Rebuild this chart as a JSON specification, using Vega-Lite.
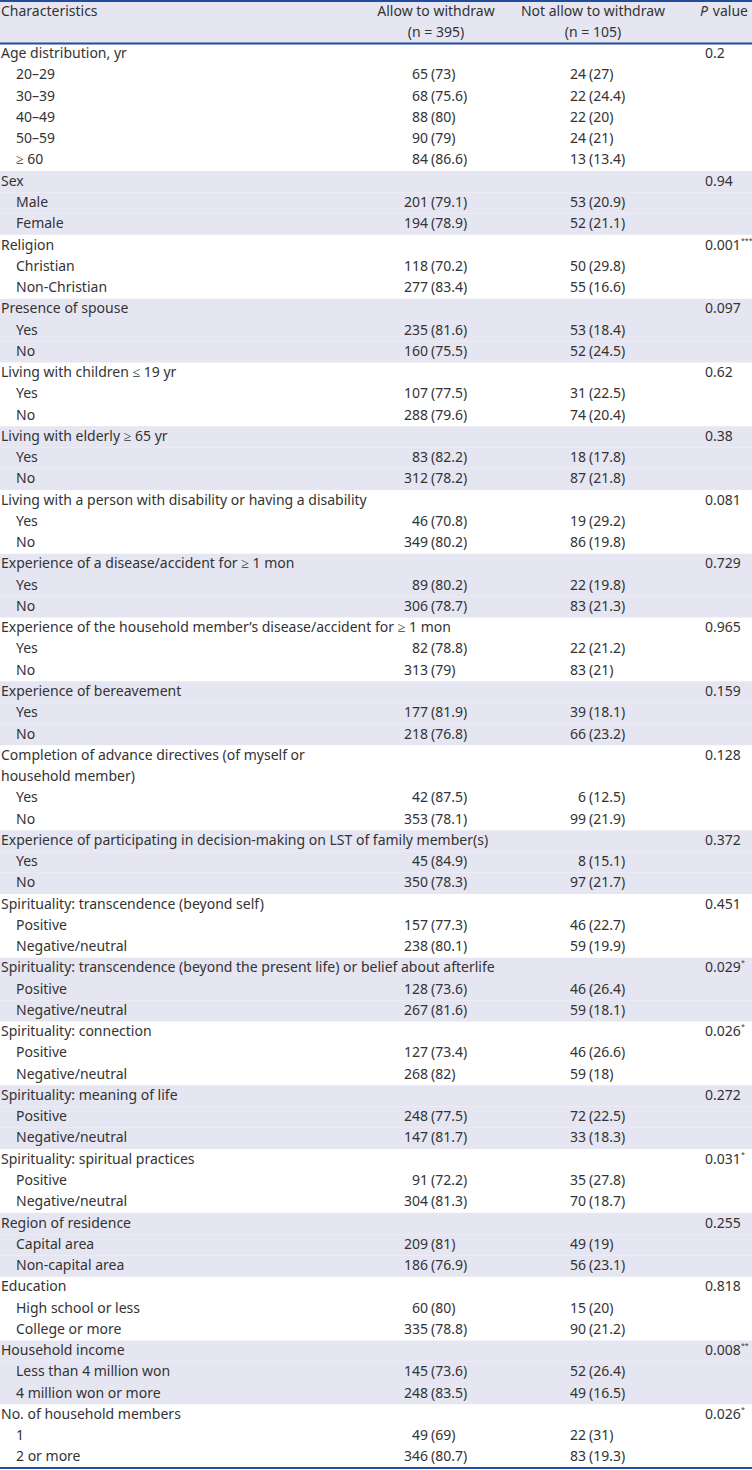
{
  "$schema": "https://vega.github.io/schema/vega-lite/v6.json",
  "width": 752,
  "height": 1467,
  "padding": {"top": 1, "left": 0, "right": 0, "bottom": 2},
  "autosize": {"type": "none"},
  "background": "white",
  "config": {
    "view": {"stroke": null},
    "text": {"font": "Noto Sans", "fontSize": 14, "color": "#333333", "baseline": "middle"}
  },
  "datasets": {
    "rows": [
      {"r": 2, "lvl": 0, "label": "Age distribution, yr", "p": "0.2", "shade": false},
      {"r": 3, "lvl": 1, "label": "20–29", "a": 65, "ap": 73, "b": 24, "bp": 27, "shade": false},
      {"r": 4, "lvl": 1, "label": "30–39", "a": 68, "ap": 75.6, "b": 22, "bp": 24.4, "shade": false},
      {"r": 5, "lvl": 1, "label": "40–49", "a": 88, "ap": 80, "b": 22, "bp": 20, "shade": false},
      {"r": 6, "lvl": 1, "label": "50–59", "a": 90, "ap": 79, "b": 24, "bp": 21, "shade": false},
      {"r": 7, "lvl": 1, "label": "≥ 60", "a": 84, "ap": 86.6, "b": 13, "bp": 13.4, "shade": false},
      {"r": 8, "lvl": 0, "label": "Sex", "p": "0.94", "shade": true},
      {"r": 9, "lvl": 1, "label": "Male", "a": 201, "ap": 79.1, "b": 53, "bp": 20.9, "shade": true},
      {"r": 10, "lvl": 1, "label": "Female", "a": 194, "ap": 78.9, "b": 52, "bp": 21.1, "shade": true},
      {"r": 11, "lvl": 0, "label": "Religion", "p": "0.001", "sig": "***", "shade": false},
      {"r": 12, "lvl": 1, "label": "Christian", "a": 118, "ap": 70.2, "b": 50, "bp": 29.8, "shade": false},
      {"r": 13, "lvl": 1, "label": "Non-Christian", "a": 277, "ap": 83.4, "b": 55, "bp": 16.6, "shade": false},
      {"r": 14, "lvl": 0, "label": "Presence of spouse", "p": "0.097", "shade": true},
      {"r": 15, "lvl": 1, "label": "Yes", "a": 235, "ap": 81.6, "b": 53, "bp": 18.4, "shade": true},
      {"r": 16, "lvl": 1, "label": "No", "a": 160, "ap": 75.5, "b": 52, "bp": 24.5, "shade": true},
      {"r": 17, "lvl": 0, "label": "Living with children ≤ 19 yr", "p": "0.62", "shade": false},
      {"r": 18, "lvl": 1, "label": "Yes", "a": 107, "ap": 77.5, "b": 31, "bp": 22.5, "shade": false},
      {"r": 19, "lvl": 1, "label": "No", "a": 288, "ap": 79.6, "b": 74, "bp": 20.4, "shade": false},
      {"r": 20, "lvl": 0, "label": "Living with elderly ≥ 65 yr", "p": "0.38", "shade": true},
      {"r": 21, "lvl": 1, "label": "Yes", "a": 83, "ap": 82.2, "b": 18, "bp": 17.8, "shade": true},
      {"r": 22, "lvl": 1, "label": "No", "a": 312, "ap": 78.2, "b": 87, "bp": 21.8, "shade": true},
      {"r": 23, "lvl": 0, "label": "Living with a person with disability or having a disability", "p": "0.081", "shade": false},
      {"r": 24, "lvl": 1, "label": "Yes", "a": 46, "ap": 70.8, "b": 19, "bp": 29.2, "shade": false},
      {"r": 25, "lvl": 1, "label": "No", "a": 349, "ap": 80.2, "b": 86, "bp": 19.8, "shade": false},
      {"r": 26, "lvl": 0, "label": "Experience of a disease/accident for ≥ 1 mon", "p": "0.729", "shade": true},
      {"r": 27, "lvl": 1, "label": "Yes", "a": 89, "ap": 80.2, "b": 22, "bp": 19.8, "shade": true},
      {"r": 28, "lvl": 1, "label": "No", "a": 306, "ap": 78.7, "b": 83, "bp": 21.3, "shade": true},
      {"r": 29, "lvl": 0, "label": "Experience of the household member’s disease/accident for ≥ 1 mon", "p": "0.965", "shade": false},
      {"r": 30, "lvl": 1, "label": "Yes", "a": 82, "ap": 78.8, "b": 22, "bp": 21.2, "shade": false},
      {"r": 31, "lvl": 1, "label": "No", "a": 313, "ap": 79, "b": 83, "bp": 21, "shade": false},
      {"r": 32, "lvl": 0, "label": "Experience of bereavement", "p": "0.159", "shade": true},
      {"r": 33, "lvl": 1, "label": "Yes", "a": 177, "ap": 81.9, "b": 39, "bp": 18.1, "shade": true},
      {"r": 34, "lvl": 1, "label": "No", "a": 218, "ap": 76.8, "b": 66, "bp": 23.2, "shade": true},
      {"r": 35, "lvl": 0, "label": "Completion of advance directives (of myself or", "p": "0.128", "shade": false},
      {"r": 36, "lvl": 0, "label": "household member)", "shade": false},
      {"r": 37, "lvl": 1, "label": "Yes", "a": 42, "ap": 87.5, "b": 6, "bp": 12.5, "shade": false},
      {"r": 38, "lvl": 1, "label": "No", "a": 353, "ap": 78.1, "b": 99, "bp": 21.9, "shade": false},
      {"r": 39, "lvl": 0, "label": "Experience of participating in decision-making on LST of family member(s)", "p": "0.372", "shade": true},
      {"r": 40, "lvl": 1, "label": "Yes", "a": 45, "ap": 84.9, "b": 8, "bp": 15.1, "shade": true},
      {"r": 41, "lvl": 1, "label": "No", "a": 350, "ap": 78.3, "b": 97, "bp": 21.7, "shade": true},
      {"r": 42, "lvl": 0, "label": "Spirituality: transcendence (beyond self)", "p": "0.451", "shade": false},
      {"r": 43, "lvl": 1, "label": "Positive", "a": 157, "ap": 77.3, "b": 46, "bp": 22.7, "shade": false},
      {"r": 44, "lvl": 1, "label": "Negative/neutral", "a": 238, "ap": 80.1, "b": 59, "bp": 19.9, "shade": false},
      {"r": 45, "lvl": 0, "label": "Spirituality: transcendence (beyond the present life) or belief about afterlife", "p": "0.029", "sig": "*", "shade": true},
      {"r": 46, "lvl": 1, "label": "Positive", "a": 128, "ap": 73.6, "b": 46, "bp": 26.4, "shade": true},
      {"r": 47, "lvl": 1, "label": "Negative/neutral", "a": 267, "ap": 81.6, "b": 59, "bp": 18.1, "shade": true},
      {"r": 48, "lvl": 0, "label": "Spirituality: connection", "p": "0.026", "sig": "*", "shade": false},
      {"r": 49, "lvl": 1, "label": "Positive", "a": 127, "ap": 73.4, "b": 46, "bp": 26.6, "shade": false},
      {"r": 50, "lvl": 1, "label": "Negative/neutral", "a": 268, "ap": 82, "b": 59, "bp": 18, "shade": false},
      {"r": 51, "lvl": 0, "label": "Spirituality: meaning of life", "p": "0.272", "shade": true},
      {"r": 52, "lvl": 1, "label": "Positive", "a": 248, "ap": 77.5, "b": 72, "bp": 22.5, "shade": true},
      {"r": 53, "lvl": 1, "label": "Negative/neutral", "a": 147, "ap": 81.7, "b": 33, "bp": 18.3, "shade": true},
      {"r": 54, "lvl": 0, "label": "Spirituality: spiritual practices", "p": "0.031", "sig": "*", "shade": false},
      {"r": 55, "lvl": 1, "label": "Positive", "a": 91, "ap": 72.2, "b": 35, "bp": 27.8, "shade": false},
      {"r": 56, "lvl": 1, "label": "Negative/neutral", "a": 304, "ap": 81.3, "b": 70, "bp": 18.7, "shade": false},
      {"r": 57, "lvl": 0, "label": "Region of residence", "p": "0.255", "shade": true},
      {"r": 58, "lvl": 1, "label": "Capital area", "a": 209, "ap": 81, "b": 49, "bp": 19, "shade": true},
      {"r": 59, "lvl": 1, "label": "Non-capital area", "a": 186, "ap": 76.9, "b": 56, "bp": 23.1, "shade": true},
      {"r": 60, "lvl": 0, "label": "Education", "p": "0.818", "shade": false},
      {"r": 61, "lvl": 1, "label": "High school or less", "a": 60, "ap": 80, "b": 15, "bp": 20, "shade": false},
      {"r": 62, "lvl": 1, "label": "College or more", "a": 335, "ap": 78.8, "b": 90, "bp": 21.2, "shade": false},
      {"r": 63, "lvl": 0, "label": "Household income", "p": "0.008", "sig": "**", "shade": true},
      {"r": 64, "lvl": 1, "label": "Less than 4 million won", "a": 145, "ap": 73.6, "b": 52, "bp": 26.4, "shade": true},
      {"r": 65, "lvl": 1, "label": "4 million won or more", "a": 248, "ap": 83.5, "b": 49, "bp": 16.5, "shade": true},
      {"r": 66, "lvl": 0, "label": "No. of household members", "p": "0.026", "sig": "*", "shade": false},
      {"r": 67, "lvl": 1, "label": "1", "a": 49, "ap": 69, "b": 22, "bp": 31, "shade": false},
      {"r": 68, "lvl": 1, "label": "2 or more", "a": 346, "ap": 80.7, "b": 83, "bp": 19.3, "shade": false}
    ],
    "header": [
      {"r": 0, "col": "char", "text": "Characteristics"},
      {"r": 0, "col": "allow", "text": "Allow to withdraw"},
      {"r": 1, "col": "allow", "text": "(n = 395)"},
      {"r": 0, "col": "not", "text": "Not allow to withdraw"},
      {"r": 1, "col": "not", "text": "(n = 105)"},
      {"r": 0, "col": "pItalic", "text": "P"},
      {"r": 0, "col": "pRest", "text": "value"},
      {"r": 1, "col": "blank", "text": ""}
    ],
    "lines": [
      {"r": 0, "edge": "top"},
      {"r": 2, "edge": "top"},
      {"r": 68, "edge": "bottom"}
    ]
  },
  "encoding": {
    "y": {
      "field": "r",
      "type": "ordinal",
      "axis": null,
      "scale": {
        "type": "band",
        "paddingInner": 0,
        "paddingOuter": 0,
        "domain": [0,1,2,3,4,5,6,7,8,9,10,11,12,13,14,15,16,17,18,19,20,21,22,23,24,25,26,27,28,29,30,31,32,33,34,35,36,37,38,39,40,41,42,43,44,45,46,47,48,49,50,51,52,53,54,55,56,57,58,59,60,61,62,63,64,65,66,67,68]
      }
    }
  },
  "layer": [
    {
      "data": {"name": "header"},
      "mark": {"type": "rect", "color": "#e6e6f2"}
    },
    {
      "data": {"name": "rows"},
      "transform": [{"filter": "datum.shade"}],
      "mark": {"type": "rect", "color": "#e6e6f2"}
    },
    {
      "data": {"name": "lines"},
      "transform": [{"filter": "datum.edge == 'top'"}],
      "mark": {"type": "rule", "color": "#234c9c", "strokeWidth": 2},
      "encoding": {"y": {"field": "r", "type": "ordinal", "bandPosition": 0}}
    },
    {
      "data": {"name": "lines"},
      "transform": [{"filter": "datum.edge == 'bottom'"}],
      "mark": {"type": "rule", "color": "#234c9c", "strokeWidth": 2},
      "encoding": {"y": {"field": "r", "type": "ordinal", "bandPosition": 1}}
    },
    {
      "data": {"name": "header"},
      "transform": [{"filter": "datum.col == 'char'"}],
      "mark": {"type": "text", "align": "left"},
      "encoding": {"x": {"value": 1}, "text": {"field": "text"}}
    },
    {
      "data": {"name": "header"},
      "transform": [{"filter": "datum.col == 'allow'"}],
      "mark": {"type": "text", "align": "center"},
      "encoding": {"x": {"value": 436}, "text": {"field": "text"}}
    },
    {
      "data": {"name": "header"},
      "transform": [{"filter": "datum.col == 'not'"}],
      "mark": {"type": "text", "align": "center"},
      "encoding": {"x": {"value": 593}, "text": {"field": "text"}}
    },
    {
      "data": {"name": "header"},
      "transform": [{"filter": "datum.col == 'pItalic'"}],
      "mark": {"type": "text", "align": "right", "fontStyle": "italic"},
      "encoding": {"x": {"value": 708}, "text": {"field": "text"}}
    },
    {
      "data": {"name": "header"},
      "transform": [{"filter": "datum.col == 'pRest'"}],
      "mark": {"type": "text", "align": "right"},
      "encoding": {"x": {"value": 748}, "text": {"field": "text"}}
    },
    {
      "data": {"name": "rows"},
      "transform": [{"filter": "datum.lvl == 0"}],
      "mark": {"type": "text", "align": "left"},
      "encoding": {"x": {"value": 1}, "text": {"field": "label"}}
    },
    {
      "data": {"name": "rows"},
      "transform": [{"filter": "datum.lvl == 1"}],
      "mark": {"type": "text", "align": "left"},
      "encoding": {"x": {"value": 16}, "text": {"field": "label"}}
    },
    {
      "data": {"name": "rows"},
      "transform": [{"filter": "isValid(datum.a)"}],
      "mark": {"type": "text", "align": "right"},
      "encoding": {"x": {"value": 428}, "text": {"field": "a", "type": "nominal"}}
    },
    {
      "data": {"name": "rows"},
      "transform": [{"filter": "isValid(datum.ap)"}, {"calculate": "'(' + datum.ap + ')'", "as": "apText"}],
      "mark": {"type": "text", "align": "left"},
      "encoding": {"x": {"value": 431}, "text": {"field": "apText"}}
    },
    {
      "data": {"name": "rows"},
      "transform": [{"filter": "isValid(datum.b)"}],
      "mark": {"type": "text", "align": "right"},
      "encoding": {"x": {"value": 586}, "text": {"field": "b", "type": "nominal"}}
    },
    {
      "data": {"name": "rows"},
      "transform": [{"filter": "isValid(datum.bp)"}, {"calculate": "'(' + datum.bp + ')'", "as": "bpText"}],
      "mark": {"type": "text", "align": "left"},
      "encoding": {"x": {"value": 589}, "text": {"field": "bpText"}}
    },
    {
      "data": {"name": "rows"},
      "transform": [{"filter": "isValid(datum.p)"}],
      "mark": {"type": "text", "align": "left"},
      "encoding": {"x": {"value": 705}, "text": {"field": "p"}}
    },
    {
      "data": {"name": "rows"},
      "transform": [{"filter": "isValid(datum.sig)"}],
      "mark": {"type": "text", "align": "left", "fontSize": 7, "dy": -5},
      "encoding": {"x": {"value": 741}, "text": {"field": "sig"}}
    }
  ]
}
